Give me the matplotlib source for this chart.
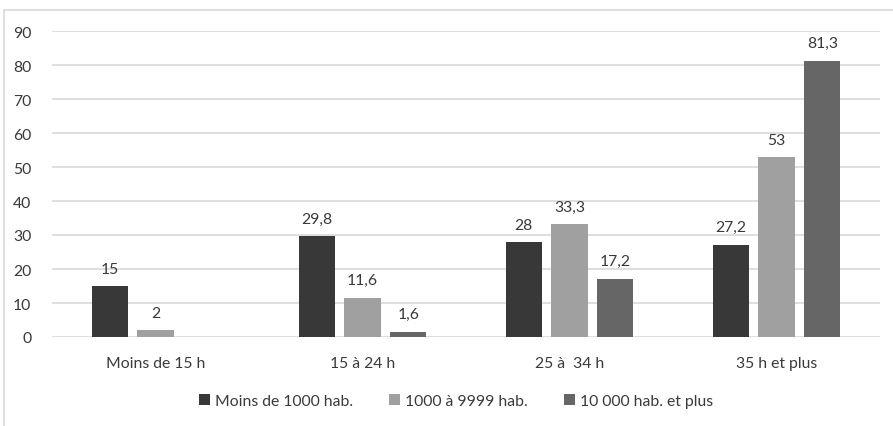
import matplotlib.pyplot as plt
import numpy as np
from matplotlib.patches import Rectangle

categories = ['Moins de 15 h', '15 à 24 h', '25 à  34 h', '35 h et plus']
series_names = ['Moins de 1000 hab.', '1000 à 9999 hab.', '10 000 hab. et plus']
moins_1000 = [15, 29.8, 28, 27.2]
de_1000_a_9999 = [2, 11.6, 33.3, 53]
plus_10000 = [None, 1.6, 17.2, 81.3]
y_ticks = [0, 10, 20, 30, 40, 50, 60, 70, 80, 90]

colors = ['#383838', '#a0a0a0', '#666666']
text_color = '#3a3a3a'
fs = 11.3

plt.rcParams['font.family'] = ['Lato', 'DejaVu Sans']

fig = plt.figure(figsize=(8.93, 4.27), dpi=100)
# light frame around the chart
fig.patches.append(Rectangle((4 / 893, -0.1), 1.1, (427 - 11) / 427 + 0.1,
                             transform=fig.transFigure, fill=False,
                             edgecolor='#d9d9d9', linewidth=1.2))

ax = fig.add_axes([52 / 893, 1 - 338 / 427, (880 - 52) / 893, (338 - 32) / 427])

x = np.arange(len(categories))
offset = 0.222
width = 0.174

for i, (vals, name) in enumerate(zip([moins_1000, de_1000_a_9999, plus_10000], series_names)):
    pos = x + (i - 1) * offset
    heights = [v if v is not None else 0 for v in vals]
    ax.bar(pos, heights, width, color=colors[i], label=name, zorder=3)
    for p, v in zip(pos, vals):
        if v is None:
            continue
        label = f'{v:g}'.replace('.', ',')
        ax.text(p, v + 3, label, ha='center', va='bottom', fontsize=fs, color=text_color)

ax.set_xlim(-0.5, len(categories) - 0.5)
ax.set_ylim(0, 90)
ax.set_yticks(y_ticks)
ax.set_xticks(x)
ax.set_xticklabels(categories)
ax.tick_params(axis='both', length=0, labelsize=fs, labelcolor=text_color)
ax.tick_params(axis='x', pad=14)
ax.tick_params(axis='y', pad=15)
ax.yaxis.grid(True, color='#d9d9d9', linewidth=1.2, zorder=0)
for s in ax.spines.values():
    s.set_visible(False)

leg = fig.legend(loc='center', bbox_to_anchor=(456 / 893, 1 - 402 / 427), ncol=3,
                 frameon=False, fontsize=fs, handlelength=0.7, handleheight=0.7,
                 handletextpad=0.3, columnspacing=2.3)
for t in leg.get_texts():
    t.set_color(text_color)

fig.savefig('out.png', dpi=100)
